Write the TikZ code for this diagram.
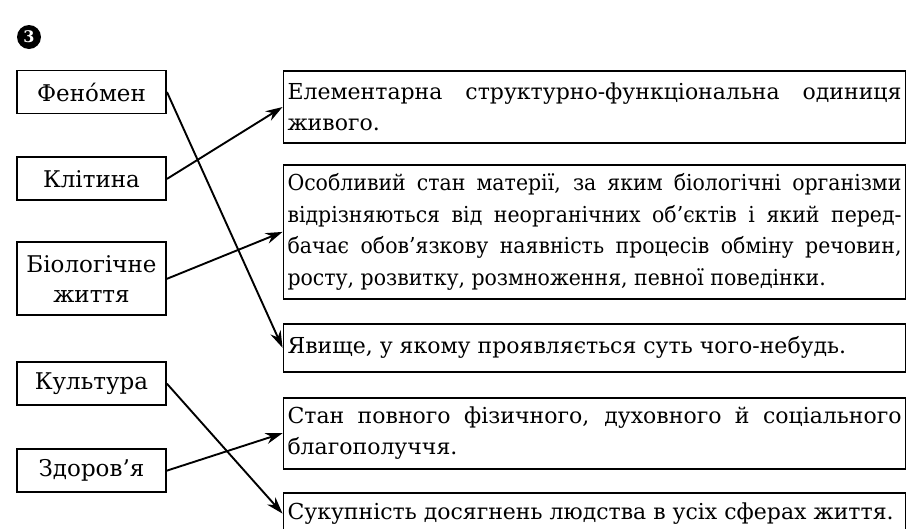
\documentclass[tikz,border=0pt]{standalone}
\usepackage{fontspec}
\setmainfont{DejaVu Serif}
\newfontfamily\narrowserif[FakeStretch=0.93]{DejaVu Serif}
\usetikzlibrary{arrows.meta,positioning}

\begin{document}
\begin{tikzpicture} [->,>={Stealth[length=17pt,width=11pt]},x=1pt,y=1pt,line width=1.9pt]
  \tikzstyle{term}=[draw,minimum width=149pt,minimum height=43pt,align=center,inner sep=2pt,font=\fontsize{23}{30}\selectfont]
  \tikzstyle{defn}=[draw,text width=614pt,align=justify,inner xsep=4pt,font=\fontsize{22}{31}\selectfont]

  \useasboundingbox (0,0) rectangle (912,-528);

  \node[circle,fill=black,inner sep=0pt,minimum size=24pt,text=white,font=\bfseries\fontsize{16}{16}\selectfont] (num) at (29,-37) {3};

  \node[term]                    (fen)  at (91.5,-92)    {Фено́мен};
  \node[term]                    (klit) [below=42pt of fen]  {Клітина};
  \node[term,minimum height=73pt] (bio)  [below=40pt of klit] {Біологічне\\життя};
  \node[term]                    (kult) [below=45pt of bio]  {Культура};
  \node[term]                    (zdor) [below=42pt of kult] {Здоров’я};

  \node[defn,minimum height=72pt]  (d1) at (594.5,-107)     {Елементарна структурно-функціональна одиниця\linebreak живого.};
  \node[defn,minimum height=134pt,font=\narrowserif\fontsize{22}{31.5}\selectfont] (d2) [below=20pt of d1] {Особливий стан матерії, за яким біологічні організми\linebreak відрізняються від неорганічних об’єктів і який перед-\linebreak бачає обов’язкову наявність процесів обміну речовин,\linebreak росту, розвитку, розмноження, певної поведінки.};
  \node[defn,minimum height=48pt]  (d3) [below=23pt of d2] {Явище, у якому проявляється суть чого-небудь.};
  \node[defn,minimum height=71pt]  (d4) [below=24pt of d3] {Стан повного фізичного, духовного й соціального\linebreak благополуччя.};
  \node[defn,minimum height=42pt]  (d5) [below=22pt of d4] {Сукупність досягнень людства в усіх сферах життя.};

  \path
        (fen.east)  edge (d3.west)
        (klit.east) edge (d1.west)
        (bio.east)  edge (d2.west)
        (kult.east) edge (d5.west)
        (zdor.east) edge (d4.west);
\end{tikzpicture}
\end{document}
